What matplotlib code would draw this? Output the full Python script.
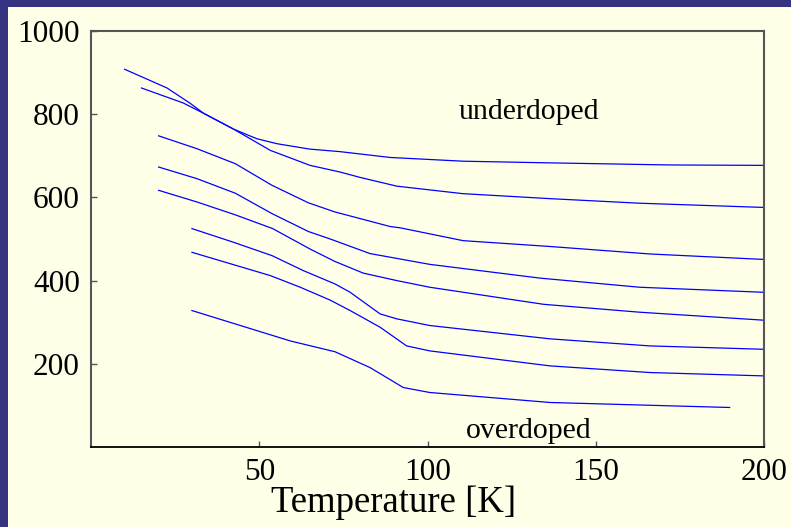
import matplotlib.pyplot as plt
from matplotlib.patches import Rectangle

# temperature (K) / value pairs for each doping level, top to bottom
t1 = [10, 22.6, 29.5, 33.5, 42.4, 53.3, 65.1, 74.0, 80.0, 90.9, 110.5, 136.4, 163.1, 199.6]
v1 = [908, 863, 826, 802, 764, 713, 677, 661, 648, 627, 609, 597, 586, 576]

t2 = [15, 27.4, 33.5, 42.4, 49.3, 55.3, 65.1, 74.0, 88.9, 110.6, 136.4, 171.9, 199.6]
v2 = [863, 827, 802, 764, 741, 729, 716, 710, 696, 687, 683, 678, 677]

t3 = [20.1, 31.5, 42.9, 47.3, 53.8, 64.6, 72.5, 88.9, 91.8, 110.6, 136.4, 166.1, 199.6]
v3 = [748, 717, 681, 660, 629, 587, 565, 530, 527, 496, 482, 464, 451]

t4 = [20.1, 31.5, 42.9, 53.8, 64.6, 71.1, 82.9, 100.7, 133.4, 163.1, 199.6]
v4 = [673, 645, 610, 561, 518, 500, 465, 439, 406, 384, 372]

t5 = [20.1, 31.5, 42.9, 54.0, 65.3, 72.5, 80.9, 90.9, 100.7, 110.6, 134.5, 163.1, 199.6]
v5 = [617, 589, 558, 525, 475, 446, 418, 400, 384, 372, 343, 324, 305]

t6 = [30.0, 42.4, 53.8, 63.1, 72.5, 77.0, 85.9, 90.9, 100.7, 136.4, 166.1, 199.6]
v6 = [525, 492, 460, 424, 392, 372, 320, 308, 292, 260, 243, 235]

t7 = [30.0, 53.3, 62.2, 71.1, 77.0, 85.9, 93.8, 100.7, 136.4, 166.1, 199.6]
v7 = [468, 412, 384, 353, 328, 288, 243, 231, 195, 179, 171]

t8 = [30.0, 44.4, 59.2, 72.5, 82.9, 92.8, 100.7, 136.4, 163.1, 189.8]
v8 = [328, 292, 255, 229, 191, 143, 131, 107, 101, 95]

curves = [(t1, v1), (t2, v2), (t3, v3), (t4, v4), (t5, v5), (t6, v6), (t7, v7), (t8, v8)]

x_ticks = [50, 100, 150, 200]
y_ticks = [200, 400, 600, 800, 1000]

cream = '#ffffe8'
border = '#333380'

plt.rcParams['font.family'] = ['Liberation Serif', 'DejaVu Serif']

W, H = 791, 527
fig = plt.figure(figsize=(W / 100, H / 100), dpi=100, facecolor=cream)
# dark strips along the top and left edges
fig.patches.append(Rectangle((0, 1 - 7 / H), 1, 7 / H, transform=fig.transFigure,
                             facecolor=border, edgecolor='none'))
fig.patches.append(Rectangle((0, 0), 8 / W, 1, transform=fig.transFigure,
                             facecolor=border, edgecolor='none'))

ax = fig.add_axes([91 / W, (H - 447) / H, (764 - 91) / W, (447 - 31) / H])
ax.set_facecolor(cream)

for t, v in curves:
    ax.plot(t, v, color='#0000ff', lw=0.9)

ax.set_xlim(0, 200)
ax.set_ylim(0, 1000)
ax.set_xticks(x_ticks)
ax.set_yticks(y_ticks)
ax.tick_params(direction='in', length=4, width=1, color='#555555',
               labelsize=22.5, pad=8, top=False, right=False)

for side in ['left', 'top', 'right']:
    ax.spines[side].set_color('#555555')
    ax.spines[side].set_linewidth(1.5)
ax.spines['bottom'].set_color('black')
ax.spines['bottom'].set_linewidth(1.3)

ax.text(130, 805, 'underdoped', fontsize=21.5, ha='center', va='center')
ax.text(130, 38, 'overdoped', fontsize=21.5, ha='center', va='center')
ax.set_xlabel('Temperature [K]', fontsize=26.5)
ax.xaxis.label.set_va('baseline')
ax.xaxis.set_label_coords(0.45, -0.157)

fig.savefig('out.png', dpi=100, facecolor=fig.get_facecolor())
